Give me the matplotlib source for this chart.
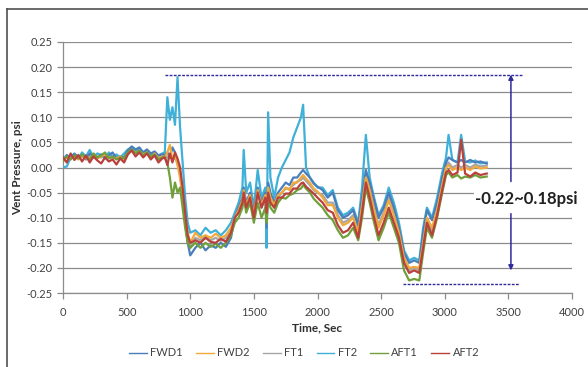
"""Vent pressure vs time for six vent locations (FWD/FT/AFT), with range markup."""
import matplotlib

matplotlib.use("Agg")
import matplotlib.pyplot as plt  # noqa: E402
from matplotlib.lines import Line2D  # noqa: E402

plt.rcParams["font.family"] = ["Lato", "DejaVu Sans"]
plt.rcParams["axes.unicode_minus"] = False

# ---- data ----
time_s = [0, 30, 60, 90, 120, 150, 180, 210, 240, 270, 300, 330, 360, 390, 420, 450,
          480, 510, 540, 570, 600, 630, 660, 690, 720, 750, 780,
          800, 820, 840, 860, 880, 900, 920, 940, 960, 980, 1000,
          1040, 1080, 1120, 1160, 1200, 1240, 1280, 1320,
          1350, 1380, 1410, 1420, 1440, 1470, 1500, 1530, 1560, 1590, 1600, 1612, 1630,
          1660, 1690,
          1720, 1750, 1780, 1810, 1840, 1870, 1887, 1910, 1940, 1970, 2000,
          2040, 2080, 2120, 2160, 2200, 2240, 2280, 2320, 2350, 2380, 2410, 2440, 2480,
          2520, 2560, 2600,
          2640, 2680, 2720, 2760, 2800, 2830, 2860, 2900, 2940, 2980,
          3010, 3030, 3060, 3100, 3129, 3160, 3200, 3240, 3280, 3330]

fwd1 = [0.015, 0.025, 0.018, 0.027, 0.020, 0.025, 0.016, 0.028, 0.022, 0.018, 0.026, 0.020,
        0.024, 0.030, 0.018, 0.022, 0.020, 0.034, 0.042, 0.036, 0.040, 0.030, 0.036, 0.028,
        0.032, 0.024, 0.026,
        0.025, 0.030, 0.020, 0.040, 0.030, 0.010, -0.010, -0.050, -0.110, -0.150, -0.175,
        -0.160, -0.150, -0.165, -0.155, -0.160, -0.150, -0.158, -0.140,
        -0.100, -0.080, -0.060, -0.040, -0.070, -0.050, -0.090, -0.040, -0.070, -0.050,
        -0.120, -0.030, -0.050, -0.070, -0.050,
        -0.040, -0.030, -0.035, -0.020, -0.020, -0.010, -0.005, -0.012, -0.020, -0.032, -0.038,
        -0.045, -0.060, -0.050, -0.085, -0.100, -0.095, -0.085, -0.115, -0.060, -0.005,
        -0.030, -0.060, -0.100, -0.080, -0.050, -0.080,
        -0.120, -0.170, -0.190, -0.185, -0.190, -0.130, -0.085, -0.105, -0.070, -0.020,
        0.010, 0.020, 0.015, 0.010, 0.015, 0.010, 0.015, 0.010, 0.012, 0.008]

fwd2 = [0.014, 0.020, 0.018, 0.022, 0.016, 0.024, 0.018, 0.020, 0.024, 0.018, 0.022, 0.026,
        0.020, 0.020, 0.018, 0.022, 0.016, 0.028, 0.034, 0.030, 0.032, 0.026, 0.030, 0.020,
        0.028, 0.018, 0.022,
        0.020, 0.030, 0.045, 0.015, 0.025, 0.005, -0.020, -0.060, -0.100, -0.130, -0.150,
        -0.130, -0.140, -0.135, -0.140, -0.132, -0.140, -0.135, -0.120,
        -0.100, -0.085, -0.065, -0.045, -0.075, -0.055, -0.095, -0.045, -0.075, -0.055,
        -0.100, -0.040, -0.060, -0.075, -0.055,
        -0.050, -0.040, -0.045, -0.030, -0.030, -0.020, -0.015, -0.022, -0.030, -0.042, -0.048,
        -0.060, -0.075, -0.075, -0.100, -0.115, -0.110, -0.100, -0.130, -0.075, -0.020,
        -0.045, -0.080, -0.120, -0.095, -0.065, -0.095,
        -0.130, -0.180, -0.200, -0.198, -0.200, -0.150, -0.100, -0.120, -0.085, -0.035,
        0.000, 0.005, -0.005, 0.000, -0.005, 0.000, -0.005, 0.002, -0.002, 0.000]

ft1 = [0.016, 0.022, 0.020, 0.024, 0.018, 0.022, 0.020, 0.024, 0.020, 0.022, 0.020, 0.024,
       0.022, 0.020, 0.020, 0.022, 0.018, 0.030, 0.036, 0.032, 0.034, 0.028, 0.032, 0.024,
       0.028, 0.020, 0.024,
       0.022, 0.020, 0.025, 0.015, 0.020, 0.008, -0.015, -0.055, -0.105, -0.140, -0.160,
       -0.140, -0.145, -0.138, -0.145, -0.140, -0.146, -0.140, -0.125,
       -0.100, -0.085, -0.070, -0.050, -0.075, -0.060, -0.095, -0.050, -0.080, -0.060,
       -0.100, -0.045, -0.065, -0.080, -0.060,
       -0.050, -0.042, -0.042, -0.035, -0.028, -0.025, -0.020, -0.027, -0.035, -0.045, -0.050,
       -0.055, -0.070, -0.070, -0.095, -0.110, -0.105, -0.095, -0.125, -0.070, -0.015,
       -0.040, -0.075, -0.115, -0.090, -0.060, -0.090,
       -0.135, -0.185, -0.205, -0.200, -0.205, -0.155, -0.105, -0.125, -0.090, -0.040,
       0.005, 0.010, 0.000, 0.005, 0.000, 0.005, 0.000, 0.006, 0.002, 0.004]

ft2 = [0.000, 0.002, 0.020, 0.028, 0.018, 0.030, 0.022, 0.035, 0.020, 0.028, 0.025, 0.018,
       0.030, 0.022, 0.026, 0.020, 0.028, 0.036, 0.040, 0.032, 0.038, 0.030, 0.034, 0.026,
       0.030, 0.024, 0.028,
       0.030, 0.140, 0.095, 0.120, 0.085, 0.180, 0.080, 0.010, -0.060, -0.110, -0.130,
       -0.125, -0.135, -0.120, -0.130, -0.125, -0.135, -0.125, -0.110,
       -0.090, -0.070, -0.040, 0.035, -0.050, -0.030, -0.080, -0.005, -0.060, -0.040,
       -0.160, 0.110, -0.020, -0.060, -0.020,
       0.000, 0.015, 0.030, 0.060, 0.080, 0.100, 0.125, 0.000, -0.020, -0.030, -0.040,
       -0.040, -0.055, -0.045, -0.080, -0.095, -0.090, -0.080, -0.110, -0.040, 0.065,
       -0.020, -0.055, -0.095, -0.075, -0.040, -0.070,
       -0.110, -0.165, -0.185, -0.180, -0.185, -0.120, -0.080, -0.100, -0.060, -0.010,
       0.020, 0.065, 0.015, 0.010, 0.065, 0.012, 0.010, 0.014, 0.008, 0.010]

aft1 = [0.012, 0.022, 0.016, 0.024, 0.018, 0.026, 0.020, 0.016, 0.028, 0.020, 0.024, 0.030,
        0.018, 0.022, 0.016, 0.020, 0.018, 0.030, 0.036, 0.028, 0.034, 0.024, 0.030, 0.022,
        0.026, 0.016, 0.020,
        0.020, 0.010, -0.020, -0.060, -0.030, -0.050, -0.040, -0.080, -0.120, -0.150, -0.160,
        -0.150, -0.160, -0.150, -0.158, -0.152, -0.160, -0.150, -0.135,
        -0.110, -0.100, -0.080, -0.060, -0.090, -0.070, -0.110, -0.070, -0.100, -0.080,
        -0.110, -0.060, -0.080, -0.090, -0.070,
        -0.060, -0.062, -0.055, -0.052, -0.045, -0.042, -0.035, -0.042, -0.050, -0.062, -0.070,
        -0.080, -0.095, -0.105, -0.125, -0.140, -0.135, -0.120, -0.145, -0.100, -0.040,
        -0.070, -0.105, -0.145, -0.120, -0.090, -0.120,
        -0.150, -0.205, -0.225, -0.222, -0.225, -0.170, -0.120, -0.140, -0.100, -0.050,
        -0.015, -0.010, -0.020, -0.015, -0.022, -0.018, -0.020, -0.015, -0.020, -0.018]

aft2 = [0.020, 0.010, 0.028, 0.015, 0.025, 0.012, 0.024, 0.010, 0.022, 0.014, 0.008, 0.020,
        0.012, 0.016, 0.006, 0.018, 0.010, 0.026, 0.034, 0.022, 0.030, 0.020, 0.028, 0.016,
        0.024, 0.010, 0.018,
        0.020, 0.005, 0.028, 0.010, 0.030, 0.018, 0.000, -0.040, -0.090, -0.135, -0.150,
        -0.145, -0.150, -0.140, -0.148, -0.150, -0.142, -0.148, -0.130,
        -0.100, -0.090, -0.070, -0.050, -0.080, -0.060, -0.100, -0.050, -0.080, -0.060,
        -0.090, -0.050, -0.070, -0.080, -0.060,
        -0.060, -0.052, -0.052, -0.042, -0.042, -0.032, -0.030, -0.038, -0.045, -0.052, -0.060,
        -0.070, -0.085, -0.090, -0.115, -0.130, -0.125, -0.110, -0.140, -0.090, -0.030,
        -0.060, -0.095, -0.135, -0.110, -0.080, -0.110,
        -0.140, -0.190, -0.210, -0.205, -0.210, -0.160, -0.110, -0.135, -0.095, -0.045,
        -0.010, -0.005, -0.015, -0.010, 0.055, -0.012, -0.018, -0.010, -0.015, -0.012]

series_names = ["FWD1", "FWD2", "FT1", "FT2", "AFT1", "AFT2"]
series_vals = [fwd1, fwd2, ft1, ft2, aft1, aft2]

# range markup
range_top, range_bot = 0.185, -0.232
top_x = (800, 3610)
bot_x = (2675, 3580)
arrow_x = 3520
range_label = "-0.22~0.18psi"

# ---- style ----
COLORS = {"FWD1": "#4a7ebb", "FWD2": "#f2a93b", "FT1": "#a6a6a6",
          "FT2": "#3fb0d8", "AFT1": "#6fa03a", "AFT2": "#b8413c"}
ZORD = {"FWD1": 4, "FWD2": 5, "FT1": 2, "FT2": 3, "AFT1": 6, "AFT2": 7}
INK = "#404040"
GRID = "#8c8c8c"
MARK = "#2f2a9c"

fig = plt.figure(figsize=(5.88, 3.67), dpi=100)
ax = fig.add_axes([63 / 588, 1 - 293 / 367, (572 - 63) / 588, (293 - 42) / 367])

for name, vals in zip(series_names, series_vals):
    ax.plot(time_s, vals, color=COLORS[name], lw=1.6, label=name, zorder=ZORD[name])

ax.set_xlim(0, 4000)
ax.set_ylim(-0.25, 0.25)
ax.set_xticks(range(0, 4001, 500))
ax.set_yticks([-0.25 + 0.05 * i for i in range(11)])
ax.yaxis.set_major_formatter(matplotlib.ticker.FormatStrFormatter("%.2f"))
ax.grid(axis="y", color=GRID, lw=0.9)
ax.set_axisbelow(True)
for sp in ("top", "right"):
    ax.spines[sp].set_visible(False)
for sp in ("left", "bottom"):
    ax.spines[sp].set_color(GRID)
    ax.spines[sp].set_linewidth(0.9)
ax.tick_params(axis="both", colors=GRID, labelcolor=INK, labelsize=8, length=4, width=0.9)
ax.tick_params(axis="x", pad=6)
ax.set_xlabel("Time, Sec", fontsize=8.5, fontweight="bold", color="#303030", labelpad=3)
ax.set_ylabel("Vent Pressure, psi", fontsize=8.5, fontweight="bold", color="#303030",
              labelpad=2)

# range markup: dashed bounds, arrows and label
ax.plot(top_x, [range_top, range_top], color=MARK, lw=1.0, ls=(0, (2, 1)), zorder=8)
ax.plot(bot_x, [range_bot, range_bot], color=MARK, lw=1.0, ls=(0, (2, 1)), zorder=8)
ax.annotate("", xy=(arrow_x, range_top), xytext=(arrow_x, -0.028),
            arrowprops=dict(arrowstyle="-|>", color=MARK, lw=1.1,
                            mutation_scale=7, shrinkA=0, shrinkB=0), zorder=8)
ax.annotate("", xy=(arrow_x, -0.205), xytext=(arrow_x, -0.092),
            arrowprops=dict(arrowstyle="-|>", color=MARK, lw=1.1,
                            mutation_scale=7, shrinkA=0, shrinkB=0), zorder=8)
ax.text(3640, -0.062, range_label, ha="center", va="center", fontsize=12,
        fontweight="bold", color="#202020", zorder=9,
        bbox=dict(facecolor="white", edgecolor="none", pad=1))

leg = fig.legend(loc="center", bbox_to_anchor=(304 / 588, 1 - 353 / 367), ncol=6,
                 frameon=False, fontsize=8, handlelength=1.6, handletextpad=0.3,
                 columnspacing=1.2, labelcolor=INK)
for h in leg.legend_handles:
    h.set_linewidth(1.0)

# chart border (left and top edges are inside the crop)
fig.add_artist(Line2D([6.5 / 588, 6.5 / 588], [0, 1 - 9 / 367], color="#505050",
                      lw=1.2, transform=fig.transFigure))
fig.add_artist(Line2D([6.5 / 588, 1], [1 - 9 / 367, 1 - 9 / 367], color="#505050",
                      lw=1.2, transform=fig.transFigure))

fig.savefig("out.png", dpi=100)
